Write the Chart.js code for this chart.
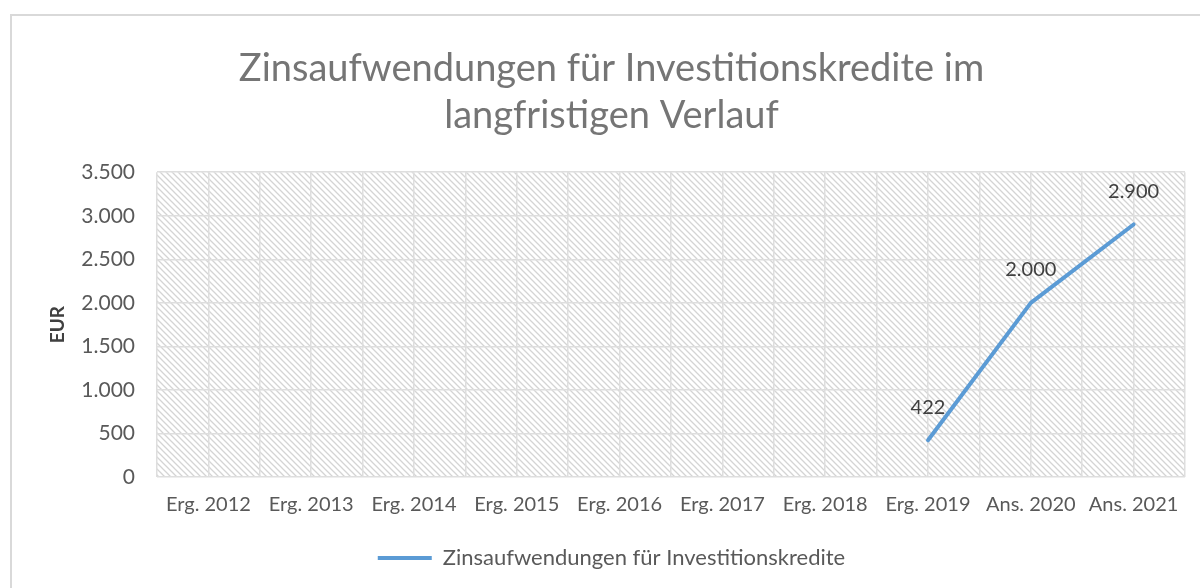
<!DOCTYPE html>
<html>
<head>
<meta charset="utf-8">
<script src="https://cdn.jsdelivr.net/npm/chart.js@4/dist/chart.umd.min.js"></script>
<style>
  html, body { margin: 0; padding: 0; background: #ffffff; }
  #wrap { position: relative; width: 1200px; height: 588px; }
</style>
</head>
<body>
<div id="wrap"><canvas id="c" width="1200" height="588"></canvas></div>
<script>
const categories = ["Erg. 2012", "Erg. 2013", "Erg. 2014", "Erg. 2015", "Erg. 2016", "Erg. 2017", "Erg. 2018", "Erg. 2019", "Ans. 2020", "Ans. 2021"];
const zinsValues = [null, null, null, null, null, null, null, 422, 2000, 2900];
const seriesName = "Zinsaufwendungen für Investitionskredite";
const titleLines = ["Zinsaufwendungen für Investitionskredite im", "langfristigen Verlauf"];
const yTitle = "EUR";
const yMin = 0, yMax = 3500, yStep = 500;

const FONT = "Lato, 'Open Sans', sans-serif";

function fmtDE(v) {
  return String(Math.round(v)).replace(/\B(?=(\d{3})+(?!\d))/g, ".");
}

function makePattern() {
  const s = 6;
  const pc = document.createElement('canvas');
  pc.width = s; pc.height = s;
  const p = pc.getContext('2d');
  p.strokeStyle = '#d4d4d4';
  p.lineWidth = 1.3;
  p.beginPath();
  p.moveTo(-1, -1); p.lineTo(s + 1, s + 1);
  p.moveTo(-1, s - 1); p.lineTo(1, s + 1);
  p.moveTo(s - 1, -1); p.lineTo(s + 1, 1);
  p.stroke();
  return p.createPattern(pc, 'repeat');
}

const backgroundPlugin = {
  id: 'bgHatch',
  beforeDraw(chart) {
    const ctx = chart.ctx;
    const a = chart.chartArea;
    ctx.save();
    ctx.fillStyle = '#ffffff';
    ctx.fillRect(0, 0, chart.width, chart.height);
    ctx.strokeStyle = '#d9d9d9';
    ctx.lineWidth = 2;
    ctx.beginPath();
    ctx.moveTo(11, chart.height);
    ctx.lineTo(11, 15);
    ctx.lineTo(chart.width, 15);
    ctx.stroke();
    ctx.fillStyle = makePattern();
    ctx.fillRect(a.left, a.top, a.right - a.left, a.bottom - a.top);
    ctx.restore();
  }
};

const labelPlugin = {
  id: 'valueLabels',
  afterDatasetsDraw(chart) {
    const ctx = chart.ctx;
    const meta = chart.getDatasetMeta(0);
    const data = chart.data.datasets[0].data;
    ctx.save();
    ctx.font = "20px " + FONT;
    ctx.fillStyle = '#404040';
    ctx.textAlign = 'center';
    ctx.textBaseline = 'middle';
    meta.data.forEach((pt, i) => {
      const v = data[i];
      if (v === null || v === undefined) return;
      ctx.fillText(fmtDE(v), pt.x, pt.y - 33);
    });
    ctx.restore();
  }
};

new Chart(document.getElementById('c'), {
  type: 'line',
  data: {
    labels: categories,
    datasets: [{
      label: seriesName,
      data: zinsValues,
      borderColor: '#5B9BD5',
      backgroundColor: '#5B9BD5',
      borderWidth: 4,
      pointRadius: 0,
      pointHoverRadius: 0,
      pointStyle: 'line',
      borderCapStyle: 'round',
      borderJoinStyle: 'round',
      tension: 0,
      spanGaps: false,
      fill: false
    }]
  },
  options: {
    responsive: false,
    animation: false,
    devicePixelRatio: 1,
    layout: { padding: { top: 14, left: 38, right: 15, bottom: 9 } },
    plugins: {
      title: {
        display: true,
        text: titleLines,
        color: '#757575',
        font: { family: FONT, size: 38, weight: 'normal', lineHeight: 1.24 },
        padding: { top: 31, bottom: 33 }
      },
      legend: {
        display: true,
        position: 'bottom',
        labels: {
          usePointStyle: true,
          pointStyle: 'line',
          pointStyleWidth: 54,
          color: '#595959',
          font: { family: FONT, size: 22 },
          padding: 9
        }
      },
      tooltip: { enabled: false }
    },
    scales: {
      x: {
        type: 'category',
        offset: true,
        grid: { display: true, offset: false, color: '#dedede', lineWidth: 1.5, drawTicks: false },
        border: { display: false },
        ticks: { color: '#595959', font: { family: FONT, size: 20 }, padding: 16, maxRotation: 0, autoSkip: false },
        afterFit(s) { s.height = 61; }
      },
      x2: {
        type: 'linear',
        position: 'bottom',
        min: -0.5, max: 9.5,
        offset: false,
        grid: { display: true, color: '#dedede', lineWidth: 1.5, drawTicks: false },
        border: { display: false },
        ticks: { display: false, stepSize: 1 },
        afterFit(s) { s.height = 0; }
      },
      y: {
        type: 'linear',
        min: yMin, max: yMax,
        grid: { color: '#dedede', lineWidth: 1.5, drawTicks: false },
        border: { display: false },
        ticks: {
          stepSize: yStep,
          color: '#595959',
          font: { family: FONT, size: 21 },
          padding: 22,
          callback: (v) => fmtDE(v)
        },
        title: {
          display: true,
          text: yTitle,
          color: '#404040',
          font: { family: FONT, size: 19, weight: 'bold' },
          padding: { top: 8, bottom: 0 }
        },
        afterFit(s) { s.width = 119; }
      }
    }
  },
  plugins: [backgroundPlugin, labelPlugin]
});
</script>
</body>
</html>
